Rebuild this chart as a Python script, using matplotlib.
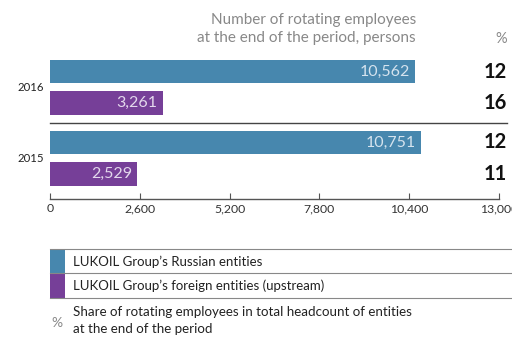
import matplotlib
matplotlib.use("Agg")
import matplotlib.pyplot as plt
from matplotlib.patches import Rectangle
from matplotlib.transforms import blended_transform_factory

plt.rcParams['font.family'] = ['Lato', 'DejaVu Sans']

years = ["2016", "2015"]
russian = [10562, 10751]
foreign = [3261, 2529]
share_russian = [12, 12]
share_foreign = [16, 11]
xticks = [0, 2600, 5200, 7800, 10400, 13000]
series_labels = ["LUKOIL Group’s Russian entities",
                 "LUKOIL Group’s foreign entities (upstream)"]
blue = "#4787ae"
purple = "#763f98"

W, H = 512, 341
fig = plt.figure(figsize=(W / 100, H / 100), dpi=100)

# axes in pixel layout
ax_left, ax_right, ax_top, ax_bottom = 50, 499, 55, 199
ax = fig.add_axes([ax_left / W, 1 - ax_bottom / H,
                   (ax_right - ax_left) / W, (ax_bottom - ax_top) / H])

group_gap = 2.25
bar_h = 0.75
for i, yr in enumerate(years):
    yb = i * group_gap
    yp = yb + 1
    ax.barh(yb, russian[i], height=bar_h, color=blue)
    ax.barh(yp, foreign[i], height=bar_h, color=purple)
    ax.text(russian[i] - 150, yb, f"{russian[i]:,}", ha="right", va="center",
            color="#d5e3ee", fontsize=11.5)
    ax.text(foreign[i] - 150, yp, f"{foreign[i]:,}", ha="right", va="center",
            color="#e3d8ec", fontsize=11.5)
    ax.text(-0.013, (yb + yp) / 2, yr, transform=blended_transform_factory(ax.transAxes, ax.transData),
            ha="right", va="center", fontsize=8.2, color="#222")
    tr = blended_transform_factory(fig.transFigure, ax.transData)
    fig.text(507 / W, yb, f"{share_russian[i]}", transform=tr, ha="right", va="center",
             fontsize=14.5, fontweight="bold", color="#111")
    fig.text(507 / W, yp, f"{share_foreign[i]}", transform=tr, ha="right", va="center",
             fontsize=14.5, fontweight="bold", color="#111")

# separator between years
sep_y = 1 + (group_gap - 1) / 2 + 0.01
ax.plot([0, (507 - ax_left) / (ax_right - ax_left)], [sep_y, sep_y], color="#444", lw=1,
        transform=blended_transform_factory(ax.transAxes, ax.transData), clip_on=False)

ax.set_xlim(0, 13000)
ax.set_ylim(group_gap + 1 + (199 - 174) / 31.5, -(71.5 - ax_top) / 31.5)
ax.set_xticks(xticks)
ax.set_xticklabels([f"{t:,}" for t in xticks], fontsize=8.8, color="#333")
ax.set_yticks([])
for s in ["top", "right", "left"]:
    ax.spines[s].set_visible(False)
ax.spines["bottom"].set_color("#555")
ax.spines["bottom"].set_linewidth(1)
ax.tick_params(axis="x", direction="in", length=4, width=0.8, color="#555", pad=3)

# header
fig.text(416 / W, 1 - 20 / H, "Number of rotating employees", ha="right", va="center",
         fontsize=11, color="#888")
fig.text(416 / W, 1 - 38 / H, "at the end of the period, persons", ha="right", va="center",
         fontsize=11, color="#888")
fig.text(507 / W, 1 - 39 / H, "%", ha="right", va="center", fontsize=10.5, color="#888")

# legend block
def hline(y, x0=50, x1=512):
    fig.add_artist(plt.Line2D([x0 / W, x1 / W], [1 - y / H, 1 - y / H],
                              color="#888", lw=0.8))

hline(249)
hline(273)
hline(298)
fig.add_artist(Rectangle((50 / W, 1 - 273 / H), 15 / W, 24 / H, color=blue, lw=0))
fig.add_artist(Rectangle((50 / W, 1 - 298 / H), 15 / W, 24.5 / H, color=purple, lw=0))
fig.text(73 / W, 1 - 262 / H, series_labels[0], ha="left", va="center", fontsize=9.5, color="#222")
fig.text(73 / W, 1 - 286 / H, series_labels[1], ha="left", va="center", fontsize=9.5, color="#222")
fig.text(51 / W, 1 - 323 / H, "%", ha="left", va="center", fontsize=10, color="#888")
fig.text(73 / W, 1 - 312 / H, "Share of rotating employees in total headcount of entities",
         ha="left", va="center", fontsize=9.6, color="#222")
fig.text(73 / W, 1 - 329 / H, "at the end of the period",
         ha="left", va="center", fontsize=9.6, color="#222")

fig.savefig("out.png", dpi=100)
